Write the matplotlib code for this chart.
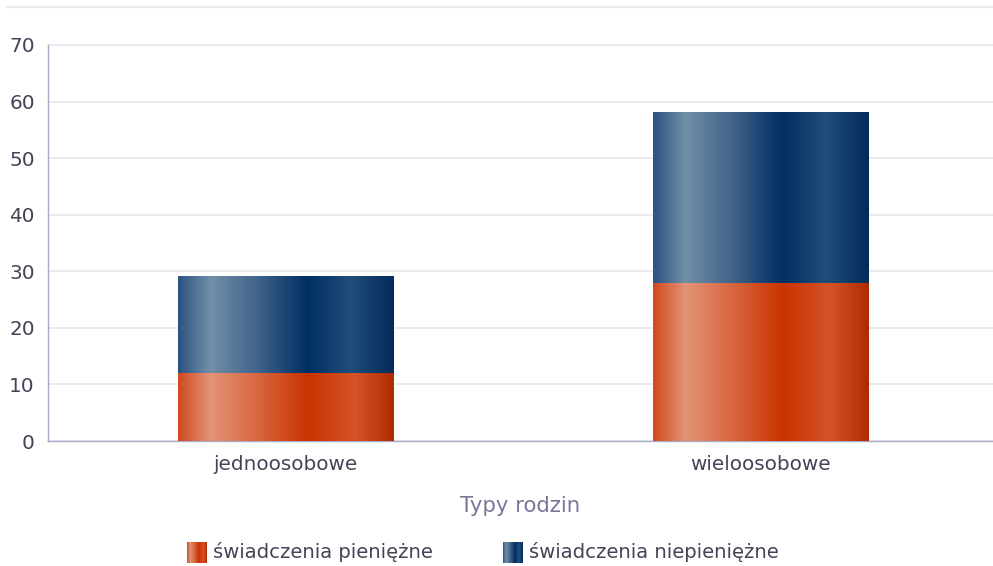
import numpy as np
import matplotlib

matplotlib.use("Agg")
import matplotlib.pyplot as plt
from matplotlib.colors import LinearSegmentedColormap
from matplotlib.lines import Line2D

categories = ["jednoosobowe", "wieloosobowe"]
pieniezne = [12.1, 28.0]
niepieniezne = [17.0, 30.1]
series_names = ["świadczenia pieniężne", "świadczenia niepieniężne"]
y_ticks = [0, 10, 20, 30, 40, 50, 60, 70]

TEXT = "#444458"
orange_cm = LinearSegmentedColormap.from_list("orange", [
    (0.0, "#cf4a1e"), (0.15, "#e39377"), (0.35, "#d96a44"), (0.6, "#c93300"),
    (0.82, "#d5532a"), (1.0, "#b02b00")])
blue_cm = LinearSegmentedColormap.from_list("blue", [
    (0.0, "#2a5482"), (0.15, "#728fa8"), (0.35, "#45678d"), (0.6, "#002f63"),
    (0.8, "#214d7a"), (1.0, "#042b5c")])
grad = np.linspace(0, 1, 256).reshape(1, -1)

fig = plt.figure(figsize=(9.93, 5.66), dpi=100)
ax = fig.add_axes([0.0483, 0.2208, 0.9517, 0.6997])
x = np.arange(len(categories))


def gradient_bars(bars, cmap):
    for p in bars:
        x0, y0 = p.get_x(), p.get_y()
        im = ax.imshow(grad, cmap=cmap, aspect="auto", zorder=3,
                       extent=(x0, x0 + p.get_width(), y0, y0 + p.get_height()))
        im.set_clip_path(p)


b1 = ax.bar(x, pieniezne, width=0.454, facecolor="none", edgecolor="none", zorder=3)
b2 = ax.bar(x, niepieniezne, width=0.454, bottom=pieniezne,
            facecolor="none", edgecolor="none", zorder=3)
gradient_bars(b1, orange_cm)
gradient_bars(b2, blue_cm)

ax.set_xlim(-0.5, 1.49)
ax.set_ylim(0, 70)
ax.set_yticks(y_ticks)
ax.set_xticks(x, categories)
ax.tick_params(length=0, labelsize=14.4, colors=TEXT)
ax.tick_params(axis="y", pad=9.5)
ax.tick_params(axis="x", pad=10)
ax.grid(axis="y", color="#e6e6ee", linewidth=1.2, zorder=0)
for gl in ax.get_ygridlines():
    gl.set_clip_on(False)
ax.set_axisbelow(True)
for s in ["top", "right"]:
    ax.spines[s].set_visible(False)
for s in ["left", "bottom"]:
    ax.spines[s].set_color("#a9a9c9")
    ax.spines[s].set_linewidth(1.0)
ax.set_xlabel("Typy rodzin", fontsize=15.3, color="#77779a", labelpad=16)

# thin line at the very top
fig.add_artist(Line2D([0.007, 1.0], [0.988, 0.988], transform=fig.transFigure,
                      color="#e8e8ee", linewidth=1.6))

# legend drawn by hand so the swatches can carry the gradients
for cmap, name, lx in [(orange_cm, series_names[0], 0.188),
                       (blue_cm, series_names[1], 0.507)]:
    sw = fig.add_axes([lx, 0.006, 0.0195, 0.036])
    sw.imshow(grad, cmap=cmap, aspect="auto")
    sw.axis("off")
    fig.text(lx + 0.026, 0.024, name, fontsize=14.1, color=TEXT, va="center")

fig.savefig("out.png", dpi=100)
